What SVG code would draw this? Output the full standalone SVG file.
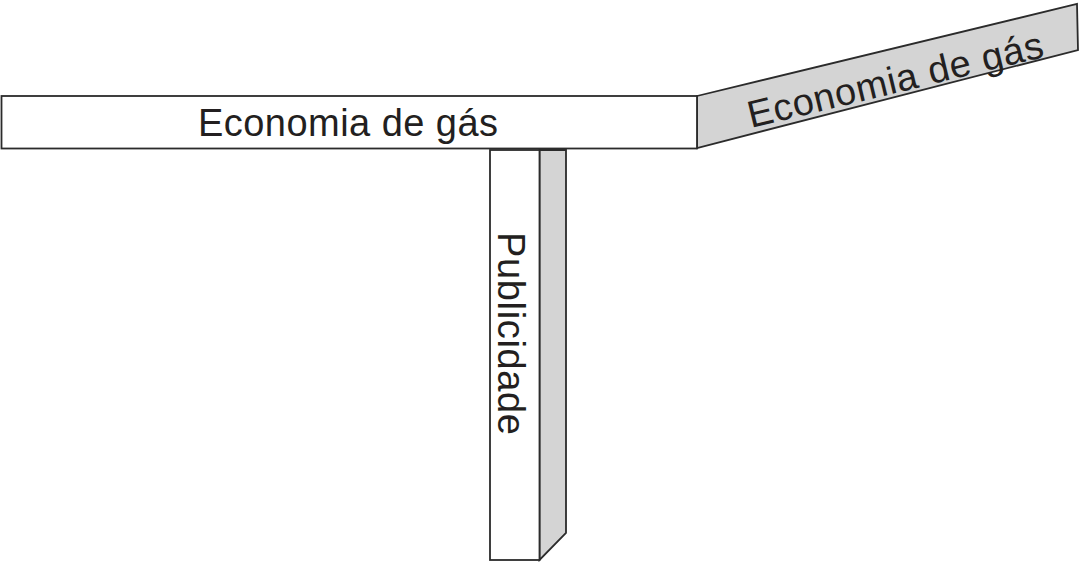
<svg xmlns="http://www.w3.org/2000/svg" width="1081" height="571" viewBox="0 0 1081 571">
<style>
.face{fill:#ffffff;stroke:#2b2b2b;stroke-width:1.8}
.side{fill:#d4d4d4;stroke:#2b2b2b;stroke-width:1.8;stroke-linejoin:miter}
.lbl{font-family:"Liberation Sans",Arial,sans-serif;font-size:38px;fill:#231f20}
</style>
<rect width="1081" height="571" fill="#ffffff"/>
<g id="top-bar">
<polygon class="side" points="697,96 1077,4 1078,50 697,148"/>
<rect class="face" x="1.5" y="96" width="695.5" height="52.5"/>
<text class="lbl" x="198" y="136" textLength="300" lengthAdjust="spacing">Economia de gás</text>
<text class="lbl" transform="translate(751,128) rotate(-13.6)" x="0" y="0" textLength="303" lengthAdjust="spacing">Economia de gás</text>
</g>
<g id="publicidade">
<polygon class="side" points="539.5,150 566,150 566,533 539.5,560"/>
<rect class="face" x="490" y="150" width="49.5" height="410"/>
<text class="lbl" transform="translate(498,232) rotate(90)" x="0" y="0" textLength="203" lengthAdjust="spacing">Publicidade</text>
</g>
</svg>
